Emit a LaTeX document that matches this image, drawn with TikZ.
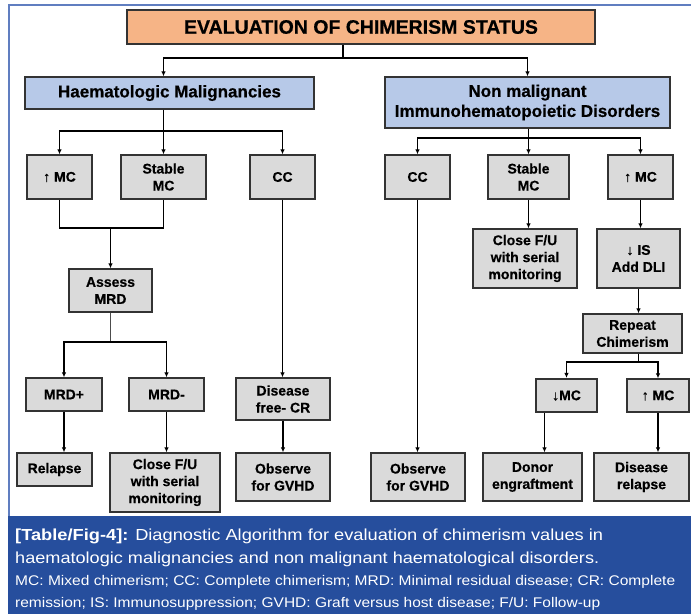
\documentclass[tikz,border=0pt]{standalone}
\usepackage{fontspec}
\setmainfont{Liberation Sans}
\newfontfamily\heavyfont{Liberation Sans Bold}[FakeBold=0.5]
\usetikzlibrary{arrows.meta, positioning}
\definecolor{titleorange}{RGB}{246,180,134}
\definecolor{groupblue}{RGB}{183,201,232}
\definecolor{boxgray}{RGB}{218,218,218}
\definecolor{capblue}{RGB}{38,78,157}
\definecolor{frameblue}{RGB}{96,126,192}

\begin{document}
\begin{tikzpicture}[x=1pt, y=-1pt,
        basic/.style = {draw=black!80, line width=1.3pt, align=center, inner sep=1pt,
                        font=\heavyfont\fontsize{14}{17}\selectfont},
        top/.style   = {basic, fill=titleorange, font=\heavyfont\fontsize{19.5}{22}\selectfont},
        group/.style = {basic, fill=groupblue, font=\heavyfont\fontsize{17}{20}\selectfont},
        leaf/.style  = {basic, fill=boxgray},
        link/.style  = {line width=1.5pt},
        captext/.style = {anchor=base west, inner sep=0pt, text=white},
        >={Latex[length=5pt,width=4.5pt]}]

    \useasboundingbox (0,0) rectangle (691,614);

    % frame and caption band
    \draw[frameblue, line width=1.3pt] (9,516) |- (691,5);
    \fill[capblue] (8,516) rectangle (691,614);

    % title and the two groups
    \node[top, minimum width=468pt, minimum height=34pt] (top) at (361,27) {EVALUATION OF CHIMERISM STATUS};
    \node[group, minimum width=289pt, minimum height=32pt] (hm) at (169.5,93) {Haematologic Malignancies};
    \node[group, minimum width=285pt, minimum height=51pt] (nm) at (527.5,102.5) {Non malignant\\ Immunohematopoietic Disorders};

    % haematologic malignancies
    \node[leaf, minimum width=65pt, minimum height=44pt] (h1) at (59.5,177) {↑ MC};
    \node[leaf, minimum width=85pt, minimum height=44pt] (h2) at (163.5,177) {Stable\\ MC};
    \node[leaf, minimum width=65pt, minimum height=44pt] (h3) at (282.5,177) {CC};
    \node[leaf, minimum width=83pt, minimum height=43pt] (am) at (110.5,290.5) {Assess\\ MRD};
    \node[leaf, minimum width=76pt, minimum height=33pt] (h11) at (64,394.5) {MRD+};
    \node[leaf, minimum width=75pt, minimum height=33pt] (h12) at (166.5,394.5) {MRD-};
    \node[leaf, minimum width=75pt, minimum height=33pt] (h111) at (54.5,469.5) {Relapse};
    \node[leaf, minimum width=110pt, minimum height=59pt] (h121) at (165,482.5) {Close F/U\\ with serial\\ monitoring};
    \node[leaf, minimum width=94pt, minimum height=42pt] (h31) at (283,399) {Disease\\ free- CR};
    \node[leaf, minimum width=94pt, minimum height=48pt] (h32) at (283,477) {Observe\\ for GVHD};

    % non malignant disorders
    \node[leaf, minimum width=65pt, minimum height=44pt] (n1) at (417.5,177) {CC};
    \node[leaf, minimum width=81pt, minimum height=44pt] (n2) at (528.5,177) {Stable\\ MC};
    \node[leaf, minimum width=65pt, minimum height=44pt] (n3) at (640.5,177) {↑ MC};
    \node[leaf, minimum width=94pt, minimum height=48pt] (n11) at (418,477) {Observe\\ for GVHD};
    \node[leaf, minimum width=104pt, minimum height=59pt] (n21) at (525,258.5) {Close F/U\\ with serial\\ monitoring};
    \node[leaf, minimum width=83pt, minimum height=59pt] (n31) at (638.5,258.5) {↓ IS\\ Add DLI};
    \node[leaf, minimum width=99pt, minimum height=39pt] (n32) at (632.5,333.5) {Repeat\\ Chimerism};
    \node[leaf, line width=2.2pt, minimum width=61pt, minimum height=33pt] (n321) at (566.5,395.5) {↓MC};
    \node[leaf, minimum width=62pt, minimum height=33pt] (n322) at (658,395.5) {↑ MC};
    \node[leaf, minimum width=99pt, minimum height=48pt] (n3211) at (532.5,477) {Donor\\ engraftment};
    \node[leaf, minimum width=95pt, minimum height=48pt] (n3221) at (641.5,477) {Disease\\ relapse};

    % junction heights
    \coordinate (tj) at (343,58);
    \coordinate (hj) at (0,131);
    \coordinate (nj) at (0,138);
    \coordinate (mj) at (0,228);
    \coordinate (aj) at (0,342);
    \coordinate (rj) at (0,362);

    % title to groups
    \draw[link] (top.south -| tj) -- (tj);
    \draw[link, ->] (tj) -| (h2.north |- hm.north);
    \draw[link, ->] (tj) -| (nm.north);

    % groups to their first level
    \draw[link, ->] (hm.south -| h2.north) -- (h2.north);
    \foreach \c in {h1,h3}
        \draw[link, ->] (hj -| h2.north) -| (\c.north);
    \draw[link, ->] (nm.south -| n2.north) -- (n2.north);
    \foreach \c in {n1,n3}
        \draw[link, ->] (nj -| n2.north) -| (\c.north);

    % left branch
    \draw[link] (h1.south) |- (mj -| h2.south) -- (h2.south);
    \draw[link, ->] (mj -| am.north) -- (am.north);
    \draw[thin, black!70] (am.south) -- (am.south |- aj);
    \foreach \c in {h11,h12}
        \draw[link, ->] (am.south |- aj) -| (\c.north);
    \foreach \a/\b in {h11/h111, h12/h121, h3/h31, h31/h32}
        \draw[link, ->] (\a.south) -- (\a.south |- \b.north);

    % right branch
    \foreach \a/\b in {n1/n11, n2/n21, n3/n31, n31/n32, n322/n3221}
        \draw[link, ->] (\a.south) -- (\a.south |- \b.north);
    \draw[link] (n31.south |- n32.south) -- (rj -| n31.south);
    \foreach \c in {n321,n322}
        \draw[link, ->] (rj -| n31.south) -| (\c.north);
    \draw[link, ->] ([xshift=-22pt]n321.south) -- ([xshift=-22pt]n321.south |- n3211.north);

    % caption
    \node[captext, font=\fontsize{16}{18}\selectfont] (cap1) at (15,540)
        {\resizebox{588pt}{\height}{\textbf{[Table/Fig-4]:} Diagnostic Algorithm for evaluation of chimerism values in}};
    \node[captext, font=\fontsize{16}{18}\selectfont] (cap2) at (15,563)
        {\resizebox{584pt}{\height}{haematologic malignancies and non malignant haematological disorders.}};
    \node[captext, font=\fontsize{14}{16}\selectfont] (cap3) at (15,585)
        {\resizebox{660pt}{\height}{MC: Mixed chimerism; CC: Complete chimerism; MRD: Minimal residual disease; CR: Complete}};
    \node[captext, font=\fontsize{14}{16}\selectfont] (cap4) at (15,607)
        {\resizebox{585pt}{\height}{remission; IS: Immunosuppression; GVHD: Graft versus host disease; F/U: Follow-up}};

\end{tikzpicture}
\end{document}
